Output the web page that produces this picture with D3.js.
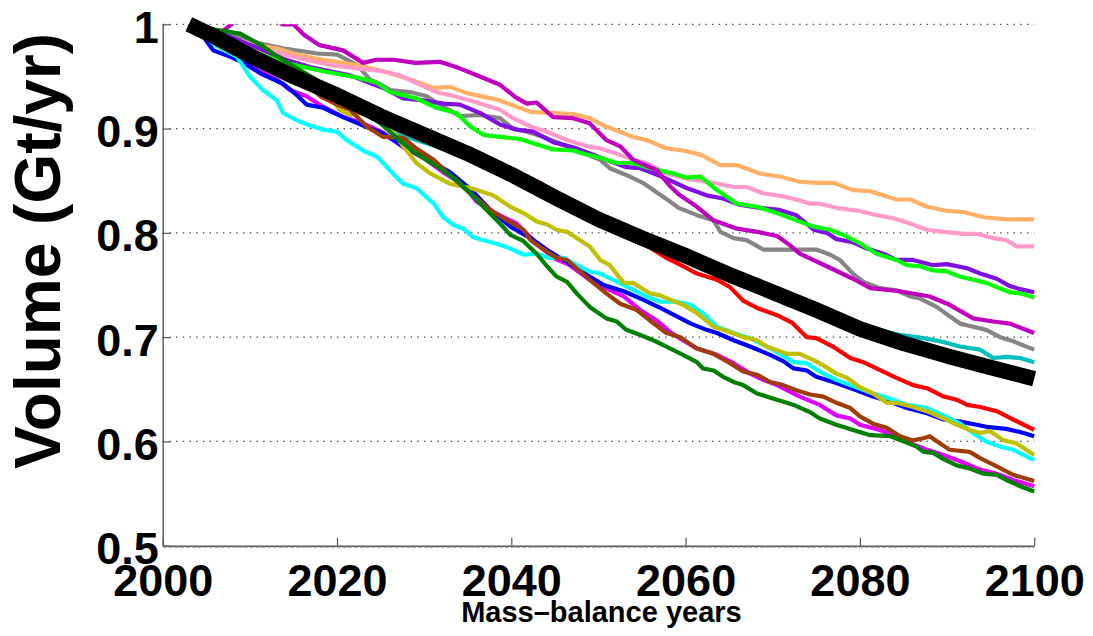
<!DOCTYPE html>
<html><head><meta charset="utf-8">
<script src="https://cdn.jsdelivr.net/npm/d3@7"></script>
<style>body{margin:0;background:#fff;}svg{display:block;}</style>
</head><body>
<svg id="chart" width="1093" height="636"></svg>
<script>
// ---------- data ----------
const xTicks = [2000, 2020, 2040, 2060, 2080, 2100];
const yTicks = [0.5, 0.6, 0.7, 0.8, 0.9, 1];
const yTickLabels = ["0.5", "0.6", "0.7", "0.8", "0.9", "1"];
const gridValues = [0.6, 0.7, 0.8, 0.9, 1];
const xLabel = "Mass\u2013balance years";
const yLabel = "Volume (Gt/yr)";

const tealSeries = [[2003,1.0],[2008,0.982],[2012,0.962],[2016.1,0.943],[2018.4,0.937],[2020,0.930],[2022.3,0.918],[2024.6,0.907],[2026.9,0.895],[2029.1,0.889],[2032.2,0.881],[2034.5,0.873],[2036.8,0.867],[2038.7,0.860],[2041,0.852],[2045,0.835],[2050,0.814],[2055,0.797],[2060,0.780],[2065,0.762],[2070,0.746],[2075,0.730],[2080,0.712],[2084,0.703],[2087.3,0.699],[2089.2,0.696],[2091.5,0.691],[2093.8,0.688],[2095.3,0.680],[2096.8,0.681],[2098.4,0.680],[2100,0.676]];
const redSeries = [[2003,1.0],[2010,0.970],[2020,0.931],[2030,0.892],[2036,0.872],[2041,0.857],[2043.3,0.848],[2045.6,0.835],[2049,0.814],[2052.1,0.801],[2054.4,0.792],[2055.9,0.786],[2057.8,0.776],[2059.7,0.768],[2061.3,0.761],[2063.6,0.755],[2065.1,0.748],[2066.6,0.735],[2068.2,0.728],[2070.5,0.721],[2072.2,0.714],[2073.9,0.700],[2075,0.699],[2076.9,0.691],[2078.9,0.680],[2080.4,0.676],[2081.9,0.670],[2084.2,0.661],[2086.1,0.654],[2087.7,0.651],[2089.6,0.643],[2091.1,0.640],[2092.3,0.635],[2093.8,0.633],[2095.7,0.629],[2097.6,0.621],[2100,0.611]];
const graySeries = [[2003,1.0],[2008,0.99],[2011,0.982],[2013.8,0.977],[2017.7,0.972],[2020,0.971],[2022.3,0.961],[2023.8,0.947],[2024.9,0.943],[2026.1,0.937],[2028.4,0.935],[2030.3,0.931],[2032.2,0.921],[2034.1,0.912],[2036.4,0.913],[2038.7,0.910],[2040.2,0.900],[2041.8,0.897],[2043.7,0.892],[2046.4,0.883],[2048.7,0.875],[2050.2,0.870],[2051.3,0.862],[2053.6,0.854],[2055.1,0.848],[2056.5,0.840],[2058.2,0.830],[2059.2,0.824],[2061.3,0.817],[2063.2,0.812],[2064,0.801],[2065.5,0.795],[2067,0.793],[2068.9,0.784],[2071.2,0.784],[2073.1,0.784],[2075,0.784],[2076.6,0.779],[2077.7,0.774],[2079.2,0.761],[2080.4,0.753],[2082.3,0.747],[2084.2,0.745],[2085.8,0.739],[2086.9,0.737],[2088.8,0.729],[2090.3,0.720],[2091.5,0.713],[2093,0.710],[2094.5,0.707],[2096.1,0.700],[2097.6,0.696],[2100,0.688]];
const orangeSeries = [[2003,1.0],[2006,0.99],[2008,0.986],[2011.2,0.979],[2013.1,0.977],[2015,0.972],[2017.7,0.967],[2020,0.964],[2022.3,0.961],[2025.3,0.955],[2028.4,0.947],[2031.1,0.939],[2033,0.940],[2034.9,0.934],[2038.7,0.927],[2042.2,0.916],[2044.4,0.915],[2047.1,0.914],[2049,0.910],[2050.6,0.903],[2054,0.892],[2055.5,0.889],[2057.8,0.881],[2059.7,0.879],[2061.7,0.875],[2064,0.865],[2065.9,0.865],[2068.5,0.857],[2070.8,0.854],[2073.1,0.849],[2075,0.848],[2077,0.848],[2079.2,0.841],[2081.2,0.840],[2084.2,0.832],[2085.8,0.832],[2087.7,0.825],[2090,0.821],[2091.9,0.820],[2094.2,0.815],[2096.8,0.813],[2100,0.813]];
const pinkSeries = [[2003,1.0],[2008,0.985],[2012,0.975],[2016,0.967],[2019.2,0.961],[2022,0.958],[2025.3,0.955],[2027.2,0.951],[2029,0.944],[2031.4,0.935],[2033,0.932],[2035.3,0.927],[2038.7,0.918],[2040.2,0.910],[2042.2,0.902],[2044.1,0.897],[2046.4,0.889],[2048.7,0.883],[2050.2,0.881],[2052.1,0.876],[2054,0.870],[2055.5,0.867],[2057.8,0.857],[2060.1,0.852],[2063.2,0.848],[2065.5,0.844],[2067,0.844],[2068.9,0.838],[2071.2,0.835],[2072.7,0.832],[2074.3,0.828],[2075.4,0.828],[2077.3,0.824],[2080,0.821],[2081.9,0.817],[2083.8,0.814],[2085.4,0.810],[2087.7,0.803],[2089.6,0.801],[2091.9,0.799],[2093.4,0.799],[2095.3,0.795],[2096.8,0.793],[2098,0.787],[2100,0.787]];
const violetSeries = [[2003,1.0],[2008,0.987],[2011,0.977],[2013.8,0.967],[2016.9,0.959],[2019.2,0.955],[2021.5,0.951],[2025.3,0.939],[2027.6,0.929],[2029.9,0.927],[2032.2,0.924],[2034.1,0.923],[2036.4,0.915],[2038.7,0.904],[2040.6,0.899],[2042.5,0.897],[2044.8,0.887],[2047.5,0.881],[2049.4,0.875],[2050.9,0.870],[2053.2,0.863],[2054.8,0.862],[2056.3,0.857],[2057.8,0.852],[2060.1,0.843],[2062.4,0.836],[2064.3,0.833],[2066.2,0.827],[2068.5,0.824],[2070.8,0.822],[2072.7,0.817],[2074.7,0.803],[2076.2,0.800],[2077.3,0.794],[2079.2,0.791],[2080.8,0.785],[2082.7,0.780],[2084.2,0.774],[2086.1,0.774],[2088.4,0.769],[2090,0.770],[2092.3,0.766],[2093.8,0.761],[2095.7,0.756],[2097.2,0.749],[2098.4,0.746],[2100,0.743]];
const limeSeries = [[2003,1.0],[2006,0.99],[2010,0.975],[2014,0.963],[2018.4,0.955],[2022.3,0.949],[2024.6,0.944],[2026.1,0.935],[2029.1,0.929],[2031.4,0.920],[2033.7,0.915],[2035.3,0.902],[2036.8,0.894],[2038.7,0.892],[2041,0.890],[2042.5,0.886],[2044.8,0.880],[2047.1,0.879],[2048.7,0.875],[2050.2,0.872],[2052.1,0.867],[2054,0.867],[2055.9,0.862],[2058.6,0.857],[2060.1,0.853],[2061.7,0.854],[2063.6,0.841],[2065.9,0.828],[2068.2,0.825],[2070.8,0.818],[2072.7,0.812],[2074.7,0.806],[2076.6,0.803],[2078.1,0.798],[2080,0.790],[2081.9,0.780],[2084.2,0.774],[2085.4,0.769],[2086.9,0.768],[2088.4,0.764],[2090,0.763],[2091.5,0.758],[2093,0.755],[2094.5,0.752],[2095.7,0.748],[2097.2,0.743],[2098.4,0.742],[2100,0.738]];
const darkMagentaSeries = [[2003,1.0],[2005,0.996],[2006.8,0.993],[2007.9,1.0],[2009,1.01],[2011,1.015],[2013,1.006],[2013.7,1.0],[2015,1.0],[2016.2,0.99],[2018,0.98],[2020.7,0.975],[2023,0.963],[2024.5,0.966],[2026.5,0.966],[2029,0.963],[2031.8,0.964],[2034,0.958],[2036.4,0.950],[2038.7,0.942],[2040.5,0.930],[2041.8,0.924],[2042.9,0.925],[2044.8,0.911],[2047.1,0.910],[2049,0.905],[2050.9,0.889],[2052.5,0.883],[2054,0.870],[2056.7,0.860],[2058.2,0.845],[2059.2,0.837],[2061.3,0.825],[2063.2,0.812],[2065.9,0.804],[2068.2,0.801],[2070.5,0.797],[2072,0.788],[2073.1,0.780],[2076.2,0.768],[2079.2,0.756],[2081.2,0.747],[2084.6,0.744],[2088,0.739],[2090.3,0.731],[2093,0.718],[2095.3,0.715],[2097.2,0.713],[2100,0.704]];
const magentaSeries = [[2003,1.0],[2006.2,0.988],[2008.5,0.975],[2010.8,0.956],[2013.1,0.947],[2014.6,0.937],[2016.5,0.931],[2018.4,0.921],[2020.7,0.911],[2023,0.905],[2025.3,0.896],[2027.6,0.882],[2029.9,0.872],[2032.2,0.858],[2034.5,0.846],[2036,0.830],[2037.9,0.820],[2040.6,0.809],[2042.9,0.790],[2044.8,0.776],[2046.7,0.769],[2049,0.755],[2050.6,0.748],[2052.9,0.739],[2054.8,0.726],[2056.7,0.716],[2058.2,0.705],[2059.7,0.697],[2061.3,0.689],[2063.6,0.683],[2065.5,0.675],[2067.4,0.665],[2068.9,0.659],[2070.5,0.654],[2073.1,0.643],[2075.4,0.635],[2077.3,0.625],[2078.9,0.622],[2080,0.616],[2082.3,0.611],[2084.2,0.605],[2086.1,0.597],[2087.7,0.592],[2089.6,0.587],[2091.5,0.581],[2093.8,0.573],[2095.7,0.569],[2097.6,0.563],[2100,0.557]];
const blueSeries = [[2003,1.0],[2004.5,0.99],[2005.8,0.975],[2007.7,0.969],[2009.3,0.963],[2011.2,0.953],[2013.8,0.943],[2015.4,0.932],[2016.5,0.923],[2018.4,0.920],[2020.7,0.911],[2023,0.903],[2025.3,0.895],[2027.6,0.883],[2029.9,0.873],[2033,0.858],[2035.3,0.842],[2037.6,0.822],[2039.9,0.806],[2042.2,0.795],[2044.4,0.782],[2046.4,0.772],[2049,0.758],[2050.6,0.750],[2052.9,0.744],[2055.1,0.736],[2057.1,0.728],[2059,0.720],[2060.6,0.713],[2062.4,0.707],[2063.6,0.704],[2065.5,0.697],[2067.4,0.691],[2069.7,0.683],[2071.2,0.677],[2072.4,0.670],[2073.9,0.668],[2075,0.662],[2077.3,0.656],[2079.6,0.649],[2081.5,0.643],[2083.5,0.638],[2085.4,0.632],[2087.7,0.627],[2089.6,0.621],[2091.5,0.619],[2093.4,0.616],[2094.5,0.614],[2096.8,0.612],[2098.4,0.609],[2100,0.605]];
const cyanSeries = [[2003,1.0],[2004.5,0.99],[2006.2,0.979],[2008.5,0.969],[2010,0.950],[2011.5,0.937],[2013.1,0.927],[2013.8,0.915],[2015.4,0.908],[2016.9,0.903],[2018.4,0.899],[2020,0.897],[2021.1,0.889],[2023,0.879],[2024.6,0.873],[2025.3,0.867],[2026.4,0.857],[2027.6,0.847],[2029.1,0.843],[2031.1,0.828],[2032.2,0.815],[2033.3,0.808],[2034.5,0.804],[2035.6,0.796],[2036.8,0.793],[2038.5,0.789],[2039.9,0.785],[2041.4,0.779],[2042.9,0.780],[2044.4,0.776],[2046,0.776],[2047.5,0.769],[2049,0.763],[2050.2,0.761],[2051.7,0.755],[2053.6,0.747],[2055.5,0.739],[2057.1,0.734],[2059,0.734],[2060.6,0.731],[2062,0.723],[2063.6,0.710],[2065.5,0.704],[2067.4,0.699],[2069.3,0.691],[2071.2,0.682],[2072.4,0.676],[2073.9,0.675],[2075.4,0.667],[2077.3,0.659],[2079.6,0.652],[2081.5,0.646],[2083.5,0.641],[2085.4,0.635],[2087.7,0.632],[2089.6,0.625],[2091.5,0.617],[2093,0.608],[2094.5,0.600],[2096.1,0.595],[2097.6,0.592],[2100,0.582]];
const oliveSeries = [[2003,1.0],[2006,0.99],[2009,0.98],[2011.5,0.969],[2013.1,0.956],[2016.1,0.947],[2017.7,0.942],[2019.2,0.931],[2020.3,0.918],[2021.5,0.913],[2023,0.915],[2024.6,0.910],[2026.1,0.902],[2027.6,0.883],[2029.1,0.867],[2030.7,0.857],[2033,0.847],[2035.3,0.843],[2037.9,0.836],[2039.9,0.825],[2041.4,0.819],[2042.9,0.811],[2044.1,0.808],[2045.2,0.803],[2046.4,0.801],[2047.5,0.795],[2049,0.787],[2050.2,0.774],[2051.3,0.769],[2052.9,0.752],[2054,0.752],[2055.9,0.742],[2057.1,0.740],[2058.2,0.736],[2059.7,0.731],[2061.3,0.723],[2063.2,0.710],[2065.1,0.705],[2066.6,0.700],[2068.2,0.697],[2069.3,0.691],[2071.6,0.684],[2073.1,0.684],[2074.7,0.678],[2075.8,0.673],[2077.3,0.665],[2078.5,0.661],[2080,0.652],[2081.5,0.646],[2083.1,0.637],[2084.2,0.637],[2086.1,0.633],[2088,0.628],[2089.6,0.622],[2091.1,0.616],[2092.6,0.611],[2093.8,0.608],[2094.9,0.610],[2096.5,0.601],[2098,0.598],[2100,0.587]];
const brownSeries = [[2003,1.0],[2006,0.99],[2008.5,0.979],[2011.9,0.964],[2014.6,0.955],[2016.5,0.943],[2018.1,0.931],[2020,0.923],[2021.5,0.918],[2023.4,0.902],[2025.3,0.892],[2027.6,0.891],[2029.1,0.881],[2031.1,0.870],[2033,0.855],[2035,0.840],[2037.6,0.822],[2039.5,0.812],[2041.4,0.803],[2042.2,0.793],[2043.7,0.784],[2045.2,0.776],[2046.4,0.774],[2047.5,0.766],[2049,0.755],[2050.9,0.742],[2052.5,0.732],[2054.4,0.726],[2055.9,0.716],[2057.8,0.704],[2059.4,0.700],[2061.3,0.689],[2063.2,0.684],[2065.1,0.675],[2066.6,0.667],[2068.2,0.664],[2069.7,0.657],[2071.2,0.654],[2072.7,0.649],[2074.3,0.645],[2075.8,0.643],[2077.3,0.637],[2078.9,0.632],[2080,0.624],[2081.5,0.617],[2083.1,0.613],[2084.6,0.605],[2086.1,0.601],[2087.3,0.603],[2088,0.605],[2089.2,0.598],[2090.3,0.592],[2092.6,0.590],[2093.8,0.584],[2095.7,0.576],[2097.6,0.568],[2100,0.562]];
const darkGreenSeries = [[2003,1.0],[2006,0.995],[2008.9,0.991],[2011.5,0.979],[2013,0.970],[2016,0.955],[2019,0.940],[2022,0.922],[2025,0.905],[2027,0.890],[2029.1,0.876],[2031.8,0.862],[2033.7,0.851],[2035.3,0.838],[2036.8,0.825],[2038.7,0.809],[2039.9,0.798],[2041.4,0.792],[2042.9,0.780],[2044.1,0.768],[2045.2,0.758],[2046.4,0.753],[2047.5,0.742],[2049,0.729],[2050.9,0.718],[2052.1,0.715],[2053.2,0.707],[2054.8,0.702],[2056.3,0.697],[2057.8,0.691],[2059.7,0.683],[2061.3,0.676],[2062,0.670],[2063.2,0.668],[2064.3,0.662],[2065.5,0.657],[2066.6,0.654],[2068.2,0.646],[2070.1,0.641],[2071.6,0.637],[2072.4,0.635],[2074.3,0.628],[2075.4,0.622],[2077.3,0.616],[2079.2,0.611],[2081.2,0.606],[2083.5,0.605],[2085,0.600],[2086.5,0.595],[2087.3,0.590],[2088.4,0.589],[2089.6,0.583],[2091.1,0.577],[2092.6,0.574],[2094.2,0.569],[2095.7,0.568],[2096.8,0.563],[2098.4,0.557],[2100,0.552]];
const meanSeries = [[2003,1.0],[2006,0.988],[2010,0.970],[2015,0.950],[2020,0.932],[2025,0.912],[2030,0.894],[2035,0.876],[2040,0.856],[2045,0.834],[2050,0.813],[2055,0.795],[2060,0.778],[2065,0.760],[2070,0.743],[2075,0.726],[2080,0.708],[2085,0.694],[2090,0.682],[2095,0.671],[2100,0.660]];

// drawing order (bottom -> top) and colours
const runs = [
  {data: tealSeries, color: "#00bfbf"},
  {data: redSeries, color: "#ff0000"},
  {data: graySeries, color: "#858585"},
  {data: orangeSeries, color: "#ffb066"},
  {data: pinkSeries, color: "#ff9acb"},
  {data: violetSeries, color: "#7f10e0"},
  {data: limeSeries, color: "#00ff00"},
  {data: darkMagentaSeries, color: "#bf00bf"},
  {data: magentaSeries, color: "#e100ff"},
  {data: blueSeries, color: "#0000ff"},
  {data: cyanSeries, color: "#00ffff"},
  {data: oliveSeries, color: "#c0c000"},
  {data: brownSeries, color: "#a03c0a"},
  {data: darkGreenSeries, color: "#008000"}
];

// ---------- layout ----------
const svg = d3.select("#chart");
const L = 162.7, T = 24.3, R = 1034.2, B = 545.7;
const x = d3.scaleLinear().domain([2000, 2100]).range([L, R]);
const y = d3.scaleLinear().domain([0.5, 1]).range([B, T]);
const font = "'Liberation Sans', Arial, Helvetica, sans-serif";

svg.append("defs").append("clipPath").attr("id", "plotclip")
  .append("rect").attr("x", L - 10).attr("y", T).attr("width", R - L + 20).attr("height", B - T);

// grid
svg.append("g").selectAll("line").data(gridValues).join("line")
  .attr("x1", L).attr("x2", R).attr("y1", d => y(d)).attr("y2", d => y(d))
  .attr("stroke", "#444").attr("stroke-width", 1.2).attr("stroke-dasharray", "1.4,5.3");

// lines
const line = d3.line().x(d => x(d[0])).y(d => y(d[1]));
const lg = svg.append("g").attr("clip-path", "url(#plotclip)");
lg.selectAll("path").data(runs).join("path")
  .attr("d", d => line(d.data)).attr("fill", "none")
  .attr("stroke", d => d.color).attr("stroke-width", 4.2)
  .attr("stroke-linejoin", "round").attr("stroke-linecap", "butt");

svg.append("path").datum(meanSeries).attr("d", line).attr("fill", "none")
  .attr("stroke", "#000").attr("stroke-width", 15.5)
  .attr("stroke-linejoin", "round").attr("stroke-linecap", "butt");

// axes
const xAxis = d3.axisBottom(x).tickValues(xTicks).tickFormat(d3.format("d"))
  .tickSizeInner(-8).tickSizeOuter(0).tickPadding(18);
const gx = svg.append("g").attr("transform", `translate(0,${B})`).call(xAxis);
const yAxis = d3.axisLeft(y).tickValues(yTicks).tickFormat((d, i) => yTickLabels[i])
  .tickSizeInner(-8).tickSizeOuter(0).tickPadding(4);
const gy = svg.append("g").attr("transform", `translate(${L},0)`).call(yAxis);

[gx, gy].forEach(g => {
  g.select(".domain").attr("stroke", "#555").attr("stroke-width", 1.4);
  g.selectAll(".tick line").attr("stroke", "#555").attr("stroke-width", 1.2);
  g.selectAll(".tick text").attr("fill", "#000")
    .style("font-family", font).style("font-weight", "bold").style("font-size", "45px");
});
gy.selectAll(".tick text").attr("dy", "0.4em");

// minor tick texture under x axis
svg.append("line").attr("x1", L).attr("x2", R).attr("y1", B + 1.6).attr("y2", B + 1.6)
  .attr("stroke", "#9a9a9a").attr("stroke-width", 1).attr("stroke-dasharray", "4,1.8");

// labels
svg.append("text").attr("x", (L + R) / 2 + 3).attr("y", 622).attr("text-anchor", "middle")
  .style("font-family", font).style("font-weight", "bold").style("font-size", "29px")
  .text(xLabel);
svg.append("text").attr("transform", "translate(60,251) rotate(-90)").attr("text-anchor", "middle")
  .style("font-family", font).style("font-weight", "bold").style("font-size", "64px")
  .text(yLabel);
</script>
</body></html>
